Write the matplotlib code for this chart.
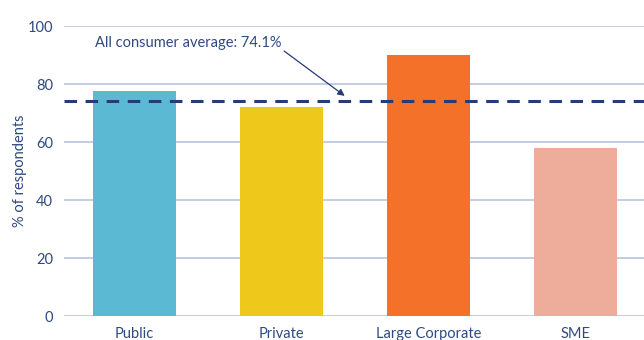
import matplotlib.pyplot as plt

categories = ["Public", "Private", "Large Corporate", "SME"]
values = [77.6, 72.1, 90.0, 57.9]
bar_colors = ["#5BB9D3", "#EEC91B", "#F4712A", "#EEAD9A"]
average = 74.1
yticks = [0, 20, 40, 60, 80, 100]

navy = "#253C78"
text_color = "#2F4A80"
grid_color = "#B8C6DA"

plt.rcParams['font.family'] = ['Lato', 'DejaVu Sans']

fig = plt.figure(figsize=(6.44, 3.40), dpi=100)
ax = fig.add_axes([64 / 644, 24 / 340, 582 / 644, 290 / 340])

x = range(len(categories))
ax.bar(x, values, width=0.56, color=bar_colors, zorder=2)

# consumer average reference line
ax.axhline(average, color=navy, lw=2.2, ls=(0, (4.1, 2.8)), zorder=3)
ax.annotate("All consumer average: 74.1%", xy=(1.43, average + 1.8),
            xytext=(-0.27, 94), textcoords="data",
            color=text_color, fontsize=10.5, va="center", ha="left",
            arrowprops=dict(arrowstyle="-|>", color=navy, lw=0.9,
                            shrinkA=0, shrinkB=0, mutation_scale=10,
                            relpos=(1.0, 0.1)))

ax.set_xlim(-0.48, 3.48)
ax.set_ylim(0, 100)
ax.set_yticks(yticks)
ax.set_xticks(list(x))
ax.set_xticklabels(categories)
ax.grid(axis="y", color=grid_color, lw=1.2, zorder=0)
ax.set_axisbelow(True)
for s in ax.spines.values():
    s.set_visible(False)
ax.tick_params(length=0, labelsize=10.5, colors=text_color)
ax.tick_params(axis="y", pad=8)
ax.tick_params(axis="x", pad=8)
ax.set_ylabel("% of respondents", color=text_color, fontsize=10.5, labelpad=0)

fig.savefig("out.png", dpi=100)
